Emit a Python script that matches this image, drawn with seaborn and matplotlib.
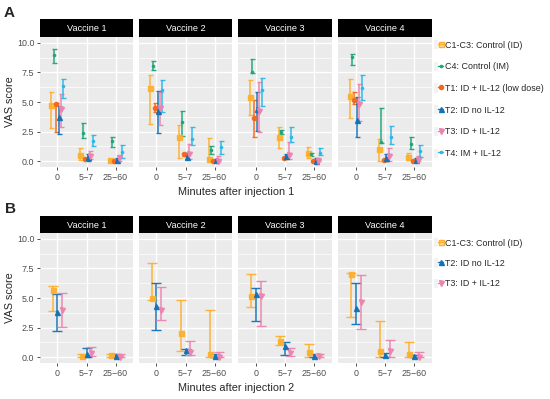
import numpy as np
import matplotlib
matplotlib.use("Agg")
import matplotlib.pyplot as plt
import seaborn as sns
from matplotlib.lines import Line2D
from matplotlib.patches import Patch
from matplotlib.legend_handler import HandlerTuple

# data (rows = vaccine 1..4, cols = 0, 5-7, 25-60 min)
times = ["0", "5\u22127", "25\u221260"]
vaccines = ["Vaccine 1", "Vaccine 2", "Vaccine 3", "Vaccine 4"]

# panel A: after injection 1
c1_mean_a = [[4.73, 0.54, 0.06], [6.21, 2.03, 0.14], [5.41, 2.00, 0.71], [5.47, 1.00, 0.37]]
c1_lo_a = [[2.80, 0.10, 0.00], [3.10, 0.25, 0.00], [3.93, 1.14, 0.28], [3.62, 0.00, 0.06]]
c1_hi_a = [[5.87, 1.08, 0.14], [7.26, 3.02, 1.98], [6.89, 2.90, 1.20], [6.92, 1.85, 0.68]]

c4_mean_a = [[9.00, 2.39, 1.74], [8.06, 3.30, 0.91], [7.55, 2.48, 0.57], [8.77, 1.60, 1.48]]
c4_lo_a = [[8.30, 1.94, 1.22], [7.75, 2.10, 0.57], [7.49, 2.28, 0.43], [8.15, 1.57, 1.00]]
c4_hi_a = [[9.50, 3.22, 2.08], [8.43, 4.27, 1.28], [8.63, 2.60, 0.71], [9.06, 4.47, 2.08]]

t1_mean_a = [[4.81, 0.20, 0.03], [4.50, 0.57, 0.00], [3.62, 0.23, 0.03], [5.13, 0.06, 0.03]]
t1_lo_a = [[2.50, 0.10, 0.00], [4.13, 0.45, 0.00], [2.05, 0.15, 0.00], [4.84, 0.00, 0.00]]
t1_hi_a = [[4.95, 0.30, 0.08], [4.93, 0.70, 0.05], [5.13, 0.30, 0.08], [5.84, 0.12, 0.08]]

t2_mean_a = [[3.73, 0.34, 0.08], [4.22, 0.34, 0.06], [4.42, 0.40, 0.03], [3.48, 0.23, 0.06]]
t2_lo_a = [[2.30, 0.05, 0.00], [2.36, 0.15, 0.00], [2.56, 0.23, 0.00], [2.00, 0.00, 0.00]]
t2_hi_a = [[4.64, 0.60, 0.23], [5.90, 0.70, 0.20], [5.84, 0.63, 0.23], [5.41, 0.57, 0.23]]

t3_mean_a = [[4.44, 0.43, 0.26], [4.50, 0.57, 0.03], [4.22, 0.51, 0.03], [4.79, 0.43, 0.06]]
t3_lo_a = [[2.88, 0.17, 0.00], [3.08, 0.14, 0.00], [2.50, 0.14, 0.00], [3.42, 0.00, 0.00]]
t3_hi_a = [[5.67, 0.88, 0.50], [5.84, 1.48, 0.43], [6.70, 1.60, 0.23], [6.50, 1.08, 0.43]]

t4_mean_a = [[6.35, 1.70, 0.74], [5.98, 1.85, 1.22], [5.98, 2.08, 0.68], [6.21, 2.00, 0.85]]
t4_lo_a = [[5.36, 1.25, 0.30], [4.13, 1.37, 0.57], [4.62, 1.65, 0.51], [5.13, 1.42, 0.37]]
t4_hi_a = [[6.98, 2.20, 1.37], [6.84, 2.85, 1.70], [7.00, 2.90, 1.14], [7.26, 2.93, 1.37]]

# panel B: after injection 2
c1_mean_b = [[5.69, 0.11, 0.14], [5.01, 2.04, 0.28], [5.16, 1.33, 0.40], [7.00, 0.54, 0.25]]
c1_lo_b = [[3.88, 0.00, 0.00], [4.82, 0.54, 0.00], [4.22, 0.99, 0.00], [3.40, 0.00, 0.00]]
c1_hi_b = [[5.98, 0.23, 0.25], [7.99, 4.87, 4.02], [7.00, 1.81, 1.13], [7.14, 3.09, 1.25]]

t2_mean_b = [[3.80, 0.23, 0.06], [4.31, 0.57, 0.11], [5.38, 0.96, 0.11], [4.16, 0.20, 0.06]]
t2_lo_b = [[2.18, 0.00, 0.00], [2.32, 0.20, 0.00], [3.03, 0.20, 0.00], [2.80, 0.00, 0.00]]
t2_hi_b = [[5.38, 0.79, 0.23], [6.23, 0.71, 0.25], [5.86, 1.25, 0.25], [6.23, 0.34, 0.20]]

t3_mean_b = [[4.00, 0.31, 0.05], [4.02, 0.45, 0.03], [5.21, 0.34, 0.08], [4.65, 0.48, 0.04]]
t3_lo_b = [[2.52, 0.08, 0.00], [3.17, 0.20, 0.00], [2.61, 0.11, 0.00], [2.41, 0.00, 0.00]]
t3_hi_b = [[5.44, 0.88, 0.28], [5.92, 1.33, 0.40], [6.43, 0.76, 0.25], [6.91, 1.47, 0.42]]

labels_a = ["C1-C3: Control (ID)", "C4: Control (IM)", "T1: ID + IL-12 (low dose)",
            "T2: ID no IL-12", "T3: ID + IL-12", "T4: IM + IL-12"]
labels_b = ["C1-C3: Control (ID)", "T2: ID no IL-12", "T3: ID + IL-12"]

colores = {"C1": "#FDB02F", "C4": "#1DA67A", "T1": "#F8661A",
           "T2": "#1272B6", "T3": "#EE83AF", "T4": "#2DB6E8"}
marcadores = {"C1": ("s", 3.6), "C4": ("o", 1.6), "T1": ("o", 3.0),
              "T2": ("^", 3.6), "T3": ("v", 3.6), "T4": ("o", 1.6)}

grupos_a = [("C1", c1_mean_a, c1_lo_a, c1_hi_a), ("C4", c4_mean_a, c4_lo_a, c4_hi_a),
            ("T1", t1_mean_a, t1_lo_a, t1_hi_a), ("T2", t2_mean_a, t2_lo_a, t2_hi_a),
            ("T3", t3_mean_a, t3_lo_a, t3_hi_a), ("T4", t4_mean_a, t4_lo_a, t4_hi_a)]
grupos_b = [("C1", c1_mean_b, c1_lo_b, c1_hi_b), ("T2", t2_mean_b, t2_lo_b, t2_hi_b),
            ("T3", t3_mean_b, t3_lo_b, t3_hi_b)]

sns.set_theme(style="darkgrid", rc={"axes.facecolor": "#EBEBEB", "grid.color": "white",
                                    "axes.edgecolor": "#EBEBEB"})
plt.rcParams["font.family"] = ["Liberation Sans", "DejaVu Sans"]

W, H = 550, 399
fig = plt.figure(figsize=(W / 100, H / 100), dpi=100)
fig.patch.set_facecolor("white")


def px_axes(x0, y0, x1, y1):
    return fig.add_axes([x0 / W, 1 - y1 / H, (x1 - x0) / W, (y1 - y0) / H])


facetas_x = [(40, 133), (139, 232), (238, 332), (338, 432)]


def panel(grupos, top, bottom, strip_top, capsize, xlabel):
    n = len(grupos)
    for v, (x0, x1) in enumerate(facetas_x):
        ax = px_axes(x0, top, x1, bottom)
        ax.set_xlim(-0.6, 2.6)
        ax.set_ylim(-0.5, 10.5)
        ax.set_yticks([0, 2.5, 5, 7.5, 10])
        ax.set_yticks([1.25, 3.75, 6.25, 8.75], minor=True)
        ax.set_xticks([0, 1, 2])
        ax.grid(which="major", color="white", lw=1.0)
        ax.grid(which="minor", axis="y", color="white", lw=0.5)
        ax.tick_params(which="minor", length=0)
        ax.tick_params(which="major", length=2.5, width=0.6, color="#333333",
                       labelsize=6.4, labelcolor="#4D4D4D", pad=1.5,
                       bottom=True, left=(v == 0))
        ax.set_xticklabels(times)
        if v == 0:
            ax.set_yticklabels(["0.0", "2.5", "5.0", "7.5", "10.0"])
            ax.set_ylabel("VAS score", fontsize=7.8, labelpad=1.5)
        else:
            ax.set_yticklabels([])
        for s in ax.spines.values():
            s.set_visible(False)
        for i, (g, media, lo, hi) in enumerate(grupos):
            off = (i - (n - 1) / 2) * 0.5 / n
            m = np.array(media[v])
            l = np.array(lo[v])
            h = np.array(hi[v])
            xs = np.arange(3) + off
            col = colores[g]
            mk, ms = marcadores[g]
            if g == "C1":
                mfc = matplotlib.colors.to_rgba(col, 0.35)
                mec = matplotlib.colors.to_rgba(col, 0.55)
            else:
                mfc = col
                mec = col
            ax.errorbar(xs, m, yerr=[m - l, h - m], fmt=mk, ms=ms, mfc=mfc, mec=mec,
                        ecolor=col, elinewidth=1.1, capsize=capsize, capthick=1.0,
                        alpha=0.95, zorder=3)
        # strip
        sax = px_axes(x0, strip_top, x1, top)
        sax.set_facecolor("black")
        sax.set_xticks([])
        sax.set_yticks([])
        sax.grid(False)
        for s in sax.spines.values():
            s.set_visible(False)
        sax.text(0.5, 0.45, vaccines[v], color="white", fontsize=6.6,
                 ha="center", va="center", transform=sax.transAxes)
    fig.text(236 / W, 1 - (bottom + 25) / H, xlabel, fontsize=7.8, ha="center", va="center")


panel(grupos_a, 37, 167, 19, 1.8, "Minutes after injection 1")
panel(grupos_b, 233, 363, 216, 3.6, "Minutes after injection 2")

fig.text(4 / W, 1 - 13 / H, "A", fontsize=11, fontweight="bold", va="center")
fig.text(5 / W, 1 - 209 / H, "B", fontsize=11, fontweight="bold", va="center")


def leyenda(grupos, etiquetas, y_top, esp):
    handles = []
    for g, *_ in grupos:
        mk, ms = marcadores[g]
        col = colores[g]
        ln = Line2D([0], [0], color=col, lw=1.0, marker=mk, ms=ms,
                    mfc=matplotlib.colors.to_rgba(col, 0.4) if g == "C1" else col,
                    mec=col)
        handles.append((Patch(facecolor="#F2F2F2", edgecolor="none"), ln))
    fig.legend(handles, etiquetas, loc="upper left", bbox_to_anchor=(434 / W, 1 - y_top / H),
               frameon=False, fontsize=6.4, handlelength=1.0, handleheight=1.2,
               handletextpad=0.2, labelspacing=esp, borderaxespad=0, borderpad=0,
               handler_map={tuple: HandlerTuple(ndivide=None, pad=0)})


leyenda(grupos_a, labels_a, 40, 1.37)
leyenda(grupos_b, labels_b, 238, 1.22)

fig.savefig("out.png", dpi=100)
